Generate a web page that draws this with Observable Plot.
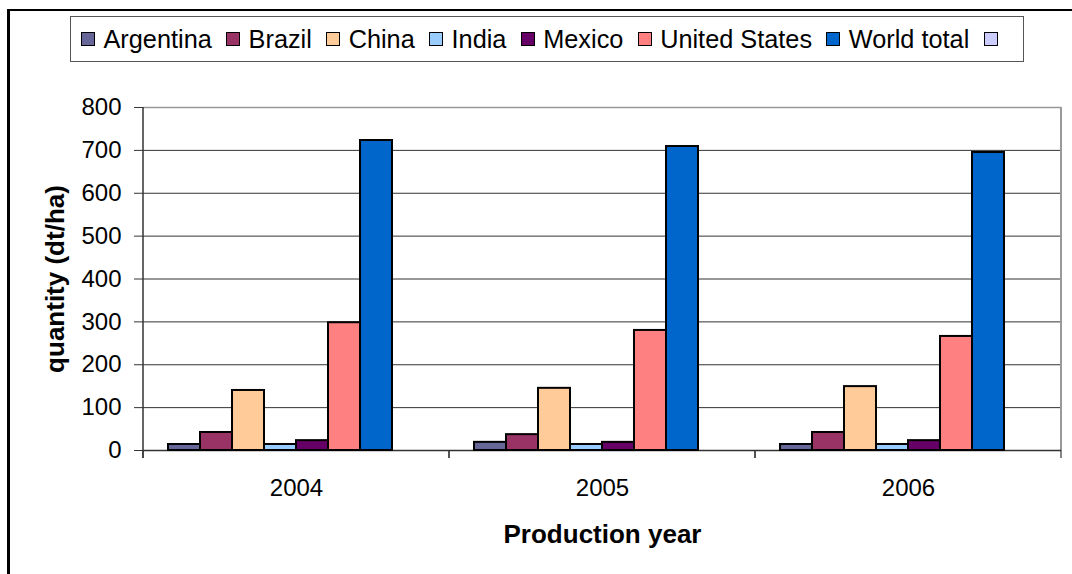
<!DOCTYPE html>
<html>
<head>
<meta charset="utf-8">
<script src="https://cdn.jsdelivr.net/npm/d3@7"></script>
<script src="https://cdn.jsdelivr.net/npm/@observablehq/plot@0.6"></script>
<style>
  html, body { margin: 0; padding: 0; background: #fff; }
  #wrap { position: relative; width: 1072px; height: 574px; overflow: hidden; font-family: Arial, "Liberation Sans", sans-serif; }
  #frame { position: absolute; left: 7px; top: 9px; width: 2000px; height: 2000px; border-left: 3px solid #000; border-top: 2px solid #000; }
  #chart { position: absolute; left: 0; top: 0; }
  #legend { position: absolute; left: 70px; top: 16px; width: 942px; height: 44px; border: 1px solid #555; background: #fff;
            display: flex; align-items: center; padding-left: 10px; box-sizing: content-box; }
  #legend .item { display: flex; align-items: center; margin-right: 14.3px; font-size: 25.3px; color: #000; white-space: nowrap; }
  #legend .sw { width: 12px; height: 12px; border: 1.5px solid #000; margin-right: 8.5px; }
  g[aria-label="y-axis label"], g[aria-label="fx-axis label"] { font-weight: bold; font-size: 26px; }
</style>
</head>
<body>
<div id="wrap">
  <div id="frame"></div>
  <div id="chart"></div>
  <div id="legend"></div>
</div>
<script>
const years = ["2004", "2005", "2006"];
const series = ["Argentina", "Brazil", "China", "India", "Mexico", "United States", "World total", ""];
const colors = ["#666699", "#993366", "#FFCC99", "#99CCFF", "#660066", "#FF8080", "#0066CC", "#CCCCFF"];

const argentina = [14, 19, 14];
const brazil = [42, 37, 42];
const china = [140, 145, 149];
const india = [14, 14, 14];
const mexico = [23, 19, 23];
const unitedStates = [298, 280, 266];
const worldTotal = [723, 709, 695];
const blankSeries = [];

const yTicks = [0, 100, 200, 300, 400, 500, 600, 700, 800];
const gridTicks = [100, 200, 300, 400, 500, 600, 700];

const seriesValues = [argentina, brazil, china, india, mexico, unitedStates, worldTotal, blankSeries];
const data = [];
series.forEach((s, i) => years.forEach((y, j) => {
  const v = seriesValues[i][j];
  if (v != null) data.push({year: y, series: s, value: v});
}));

// short ticks below the x axis at each category boundary (repeated in each facet)
const boundaryTicks = (index, scales, values, dims) => {
  const g = d3.create("svg:g").attr("aria-label", "category boundaries");
  const y0 = dims.height - dims.marginBottom;
  for (const x of [dims.marginLeft, dims.width - dims.marginRight]) {
    g.append("line").attr("x1", x).attr("x2", x).attr("y1", y0).attr("y2", y0 + 8)
      .attr("stroke", "#333").attr("stroke-width", 1.2);
  }
  return g.node();
};

// a vertical frame edge drawn only in the facet of the given year
function edgeLine(year, side, stroke, strokeWidth, extend) {
  const m = Plot.ruleX([year], {fx: d => d, x: null});
  m.render = function(index, scales, values, dims) {
    const g = d3.create("svg:g").attr("aria-label", "plot edge " + side);
    if (index && index.length) {
      const x = side === "left" ? dims.marginLeft : dims.width - dims.marginRight;
      g.append("line").attr("x1", x).attr("x2", x)
        .attr("y1", dims.marginTop).attr("y2", dims.height - dims.marginBottom + extend)
        .attr("stroke", stroke).attr("stroke-width", strokeWidth);
    }
    return g.node();
  };
  return m;
}

const chart = Plot.plot({
  width: 1072,
  height: 574,
  marginTop: 107,
  marginLeft: 142,
  marginRight: 10,
  marginBottom: 124,
  style: {fontFamily: "Arial, 'Liberation Sans', sans-serif", fontSize: "24px", background: "transparent", color: "#000"},
  fx: {domain: years, paddingInner: 0, paddingOuter: 0},
  x: {domain: series, paddingInner: 0, paddingOuter: 0.743, axis: null},
  y: {domain: [0, 800]},
  color: {domain: series, range: colors},
  marks: [
    Plot.gridY(gridTicks, {stroke: "#333", strokeOpacity: 1, strokeWidth: 1}),
    Plot.ruleY([800], {stroke: "#999", strokeWidth: 1.5}),
    edgeLine(years[years.length - 1], "right", "#999", 2, 0),
    Plot.ruleY([0], {stroke: "#333", strokeWidth: 1.5}),
    edgeLine(years[0], "left", "#333", 1.5, 8),
    Plot.axisY({anchor: "left", ticks: yTicks, tickSize: 9, tickPadding: 13, fontSize: 24, stroke: "#333",
      label: "quantity (dt/ha)", labelAnchor: "center", labelOffset: 98, labelArrow: "none"}),
    Plot.axisFx({anchor: "bottom", tickSize: 0, tickPadding: 28, fontSize: 24,
      label: "Production year", labelAnchor: "center", labelOffset: 92, labelArrow: "none"}),
    boundaryTicks,
    Plot.barY(data, {fx: "year", x: "series", y: "value", fill: "series", stroke: "#000", strokeWidth: 2})
  ]
});
document.getElementById("chart").appendChild(chart);

const legend = document.getElementById("legend");
series.forEach((s, i) => {
  const item = document.createElement("div");
  item.className = "item";
  const sw = document.createElement("span");
  sw.className = "sw";
  sw.style.background = colors[i];
  item.appendChild(sw);
  const t = document.createElement("span");
  t.textContent = s;
  item.appendChild(t);
  legend.appendChild(item);
});
</script>
</body>
</html>
